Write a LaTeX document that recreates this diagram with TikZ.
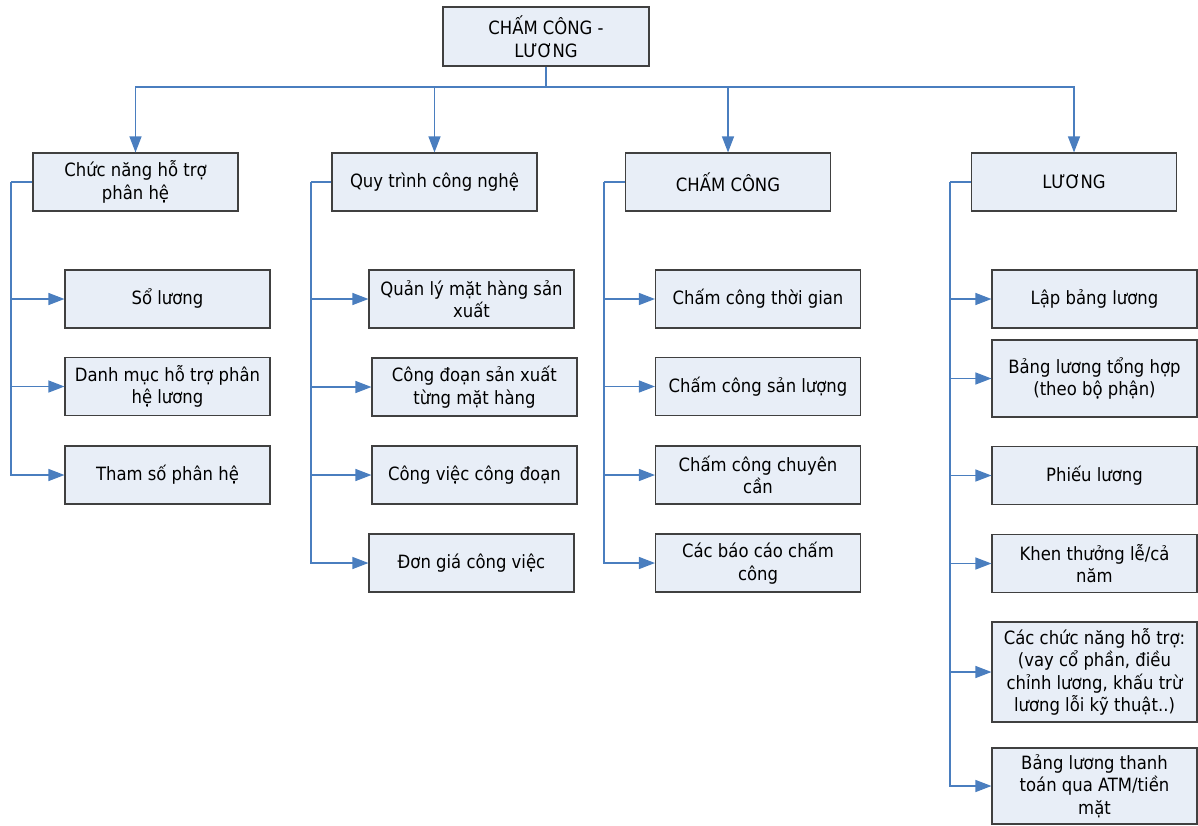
\documentclass[tikz,border=0pt]{standalone}
\usepackage{fontspec}
\setmainfont{DejaVu Sans Condensed}
\usetikzlibrary{arrows.meta}
\definecolor{boxfill}{HTML}{E8EEF7}
\definecolor{boxdraw}{HTML}{404040}
\definecolor{linkc}{HTML}{4A7EBF}
\tikzset{
  box/.style={draw=boxdraw, fill=boxfill, line width=1.1pt, minimum width=205pt, minimum height=58pt, inner sep=0pt, align=center, font=\fontsize{18.3}{22.5}\selectfont},
  link/.style={draw=linkc, line width=1.2pt},
  arr/.style={link, -{Triangle[length=16pt,width=12pt]}}
}
\begin{document}
\begin{tikzpicture}[x=1pt,y=-1pt]
\useasboundingbox (0,0) rectangle (1198,825);
% root
\node[box, minimum width=206pt, minimum height=59pt] (root) at (546,36.5) {CHẤM CÔNG -\\LƯƠNG};
% level 1
\node[box] (A) at (135.5,182) {Chức năng hỗ trợ\\phân hệ};
\node[box] (B) at (434.5,182) {Quy trình công nghệ};
\node[box] (C) at (728,182) {CHẤM CÔNG};
\node[box] (D) at (1074,182) {LƯƠNG};
% A children
\node[box] (A1) at (167.5,299) {Sổ lương};
\node[box] (A2) at (167.5,386.5) {Danh mục hỗ trợ phân\\hệ lương};
\node[box] (A3) at (167.5,475) {Tham số phân hệ};
% B children
\node[box] (B1) at (471.5,299) {Quản lý mặt hàng sản\\xuất};
\node[box] (B2) at (474.5,387) {Công đoạn sản xuất\\từng mặt hàng};
\node[box] (B3) at (474.5,475) {Công việc công đoạn};
\node[box] (B4) at (471.5,563) {Đơn giá công việc};
% C children
\node[box] (C1) at (758,299) {Chấm công thời gian};
\node[box] (C2) at (758,386.5) {Chấm công sản lượng};
\node[box] (C3) at (758,475) {Chấm công chuyên\\cần};
\node[box] (C4) at (758,563) {Các báo cáo chấm\\công};
% D children
\node[box] (D1) at (1094.5,299) {Lập bảng lương};
\node[box, minimum height=77pt] (D2) at (1094.5,378.5) {Bảng lương tổng hợp\\(theo bộ phận)};
\node[box] (D3) at (1094.5,475.5) {Phiếu lương};
\node[box] (D4) at (1094.5,563.5) {Khen thưởng lễ/cả\\năm};
\node[box, minimum height=100pt] (D5) at (1094.5,672) {Các chức năng hỗ trợ:\\(vay cổ phần, điều\\chỉnh lương, khấu trừ\\lương lỗi kỹ thuật..)};
\node[box, minimum height=76pt] (D6) at (1094.5,786) {Bảng lương thanh\\toán qua ATM/tiền\\mặt};
% top connectors
\coordinate (j) at (546,87);
\draw[link] (root.south) -- (j);
\draw[arr] (j) -| (A.north);
\draw[arr] (j) -| (B.north);
\draw[arr] (j) -| (C.north);
\draw[arr] (j) -| (D.north);
% side connectors
\coordinate (ja) at (11,182);
\coordinate (jb) at (311,182);
\coordinate (jc) at (604,182);
\coordinate (jd) at (950,182);
\draw[link] (A.west) -- (ja);
\draw[link] (B.west) -- (jb);
\draw[link] (C.west) -- (jc);
\draw[link] (D.west) -- (jd);
\foreach \c in {A1,A2,A3} \draw[arr] (ja) |- (\c.west);
\foreach \c in {B1,B2,B3,B4} \draw[arr] (jb) |- (\c.west);
\foreach \c in {C1,C2,C3,C4} \draw[arr] (jc) |- (\c.west);
\foreach \c in {D1,D2,D3,D4,D5,D6} \draw[arr] (jd) |- (\c.west);
\end{tikzpicture}
\end{document}
